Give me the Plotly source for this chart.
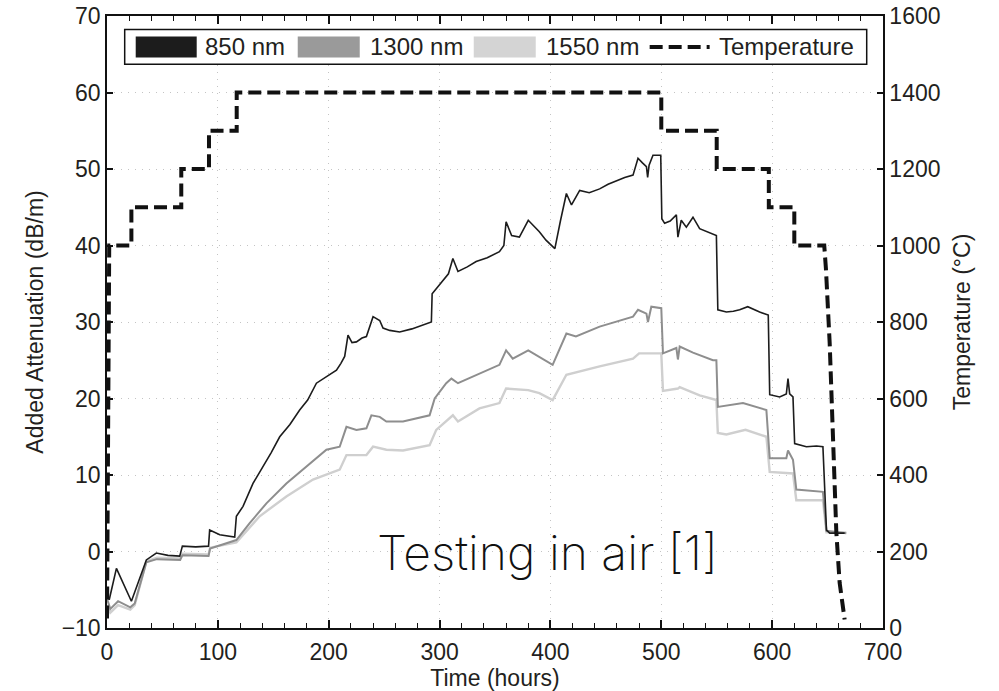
import plotly.graph_objects as go

# ---------------- data ----------------
hours_850 = [0, 2, 8.5, 22, 35.5, 44.5, 55, 65.6, 68, 80, 91.6, 92.6, 101.7, 115.2, 116.7, 122.7, 131.7,
             140.7, 148, 155.8, 165, 173.8, 181, 188.9, 198, 207, 211, 214.4, 217.4, 221, 225, 230, 234,
             240, 246, 249, 255, 264, 275, 288, 292.6, 293.3, 298, 303, 308, 312, 316.6, 325, 333, 343,
             354, 358, 360, 365, 372, 380, 385, 390, 396, 404, 409, 414.4, 419, 426.4, 435, 444.4, 452,
             459.5, 467, 474.5, 479, 483, 486.6, 487.7, 489, 492.5, 499.5, 500.5, 503, 508, 513.6, 515,
             518, 522.6, 528.6, 534.6, 543.6, 549.7, 551, 558.7, 565, 570.7, 578, 588.7, 596.5, 597.8,
             606.8, 612.8, 614.3, 615.8, 618.8, 620.3, 630.9, 640, 645.8, 649, 652, 665.4]
att_850 = [-5.5, -6.3, -2.2, -6.5, -1.1, -0.2, -0.5, -0.6, 0.7, 0.6, 0.7, 2.8, 2.2, 1.9, 4.6, 5.9, 8.9,
           11.1, 12.9, 15.0, 16.6, 18.5, 19.8, 22.0, 22.9, 23.7, 24.6, 25.5, 28.3, 27.3, 27.4, 27.9, 28.1,
           30.7, 30.2, 29.2, 28.9, 28.7, 29.1, 29.8, 30.0, 33.7, 34.5, 35.5, 36.3, 38.3, 36.6, 37.2, 37.9, 38.4,
           39.2, 40.0, 43.1, 41.3, 41.1, 43.3, 42.6, 41.8, 40.7, 39.6, 43.2, 46.8, 45.3, 47.2, 46.9, 47.4, 48.0,
           48.5, 48.9, 49.2, 51.4, 50.8, 50.3, 48.9, 50.5, 51.8, 51.8, 43.5, 42.9, 43.2, 44.0, 41.1,
           43.3, 42.4, 43.7, 42.2, 41.6, 41.3, 31.6, 31.3, 31.4, 31.6, 32.0, 31.3, 30.9, 20.5,
           20.2, 20.6, 22.6, 20.6, 20.2, 14.1, 13.7, 13.8, 13.7, 2.8, 2.4, 2.4]

hours_1300 = [0, 3, 10, 21, 25, 35.5, 45, 66, 68, 91.6, 93, 116.7, 128.7, 143.8, 161.8, 179.9, 197.9,
              209.9, 216, 225, 234, 238.5, 246, 252, 267, 291, 295.6, 306, 310.7, 316.6, 336, 354, 360,
              366, 380, 390, 402, 414.4, 423, 444.4, 474.5, 479, 486.6, 488, 491, 500, 501.5, 513.6, 515,
              516.6, 528.6, 546.6, 549.7, 551, 573.7, 594.8, 597.8, 612.8, 614.3, 618.8, 621.8, 645.8,
              649, 666.9]
att_1300 = [-6.2, -7.5, -6.5, -7.3, -6.8, -1.4, -1.0, -1.1, -0.5, -0.6, 0.4, 1.5, 3.7, 6.3, 8.9, 11.1, 13.3,
            13.7, 16.3, 15.9, 16.1, 17.8, 17.6, 17.0, 17.0, 17.8, 20.0, 22.0, 22.6, 22.0, 23.3, 24.4, 26.3,
            25.2, 26.3, 25.4, 24.4, 28.5, 28.1, 29.4, 30.7, 31.6, 31.1, 30.0, 32.0, 31.8, 25.9, 26.6, 25.1,
            26.8, 26.0, 25.0, 25.0, 18.9, 19.4, 18.5, 12.2, 12.2, 13.2, 12.0, 8.1, 7.8,
            2.7, 2.4]

hours_1550 = [0, 3, 10, 21, 25, 35.5, 45, 66, 68, 91.6, 93, 116.7, 137.7, 161.8, 185.8, 209.9, 216, 234,
              240, 252, 267, 291, 297, 306, 312, 316.6, 336, 354, 360, 380, 390, 402, 414.4, 444.4, 474.5,
              480, 500, 501.5, 515, 516.6, 534.6, 549.7, 551, 558.7, 576, 594.8, 597.8, 618.8, 621.8,
              645.8, 649, 666.9]
att_1550 = [-7.0, -8.0, -7.0, -7.6, -7.0, -1.3, -0.8, -0.9, -0.3, -0.4, 0.5, 1.2, 4.6, 7.2, 9.4, 10.7, 12.6, 12.6,
            13.7, 13.3, 13.2, 13.9, 15.9, 17.0, 17.8, 17.0, 18.7, 19.4, 21.3, 21.1, 20.7, 19.8, 23.1, 24.2, 25.2,
            25.9, 25.9, 21.0, 21.3, 21.5, 20.4, 19.8, 15.5, 15.3, 15.9, 15.0, 10.4, 10.2, 6.7,
            6.7, 2.5, 2.5]

temp_hours = [0, 2, 22, 22, 67, 67, 92, 92, 117, 117, 500, 500, 550, 550, 597, 597, 620, 620,
              647, 648.5, 651.9, 654.9, 657.9, 660.9, 665.4]
temp_c = [25, 1000, 1000, 1100, 1100, 1200, 1200, 1300, 1300, 1400, 1400, 1300, 1300, 1200, 1200, 1100,
          1100, 1000, 1000, 940, 745, 509, 250, 118, 22]

legend_names = ["850 nm", "1300 nm", "1550 nm", "Temperature"]
annotation_text = "Testing in air [1]"

x_ticks = [0, 100, 200, 300, 400, 500, 600, 700]
y_ticks = [-10, 0, 10, 20, 30, 40, 50, 60, 70]
y2_ticks = [0, 200, 400, 600, 800, 1000, 1200, 1400, 1600]

# ---------------- styles ----------------
C850, C1300, C1550 = "#1c1c1c", "#8e8e8e", "#cfcfcf"
FONT = "Liberation Sans, Arial, sans-serif"
TXT = "#231f20"
DASH = "13px,6px"
GRID = dict(showgrid=True, gridcolor="#c4c4c4", griddash="1px,6px", gridwidth=1)

fig = go.Figure()
fig.add_trace(go.Scatter(x=hours_1550, y=att_1550, mode="lines", name=legend_names[2],
                         line=dict(color=C1550, width=2.4), showlegend=False))
fig.add_trace(go.Scatter(x=hours_1300, y=att_1300, mode="lines", name=legend_names[1],
                         line=dict(color=C1300, width=2.0), showlegend=False))
fig.add_trace(go.Scatter(x=hours_850, y=att_850, mode="lines", name=legend_names[0],
                         line=dict(color=C850, width=1.6), showlegend=False))
fig.add_trace(go.Scatter(x=temp_hours, y=temp_c, mode="lines", name=legend_names[3], yaxis="y2",
                         line=dict(color="#111111", width=4, dash=DASH), showlegend=False))

# ---------------- manual legend (boxed, with filled swatches) ----------------
shapes = []
annos = []
LY = 0.9494
shapes.append(dict(type="rect", xref="paper", yref="paper", x0=0.0228, x1=0.979, y0=0.921, y1=0.978,
                   line=dict(color="#111", width=1.5), fillcolor="white", layer="above"))
sw = [(0.037, 0.1156, C850), (0.2458, 0.3257, "#9a9a9a"), (0.4726, 0.5525, "#d4d4d4")]
txt_x = [0.1233, 0.336, 0.5627, 0.7856]
for (a, b, c) in sw:
    shapes.append(dict(type="rect", xref="paper", yref="paper", x0=a, x1=b, y0=0.9323, y1=0.9665,
                       line=dict(width=0), fillcolor=c, layer="above"))
shapes.append(dict(type="line", xref="paper", yref="paper", x0=0.6993, x1=0.7766, y0=LY, y1=LY,
                   line=dict(color="#111", width=4, dash=DASH), layer="above"))
for name, xx in zip(legend_names, txt_x):
    annos.append(dict(xref="paper", yref="paper", x=xx, y=LY, xanchor="left", yanchor="middle",
                      text=name, showarrow=False, font=dict(family=FONT, size=24, color=TXT)))

annos.append(dict(xref="paper", yref="paper", x=0.79, y=0.124, xanchor="right", yanchor="middle",
                  text=annotation_text, showarrow=False,
                  font=dict(family="Inter, Lato, sans-serif", size=48, color="#111", weight=200)))

axis_common = dict(showline=True, linecolor="#111", linewidth=1.5, ticks="inside", tickcolor="#111",
                   tickfont=dict(family=FONT, size=23, color=TXT), zeroline=False, automargin=False)

fig.update_layout(
    width=999, height=691,
    margin=dict(l=107, r=116, t=16, b=63),
    paper_bgcolor="white", plot_bgcolor="white",
    shapes=shapes, annotations=annos,
    xaxis=dict(range=[0, 700], tickvals=x_ticks, ticklen=8, tickwidth=1.5, mirror="ticks",
               ticklabelstandoff=3,
               minor=dict(dtick=20, ticks="inside", ticklen=5, tickcolor="#111", tickwidth=1.2, showgrid=False),
               title=dict(text="Time (hours)", font=dict(family=FONT, size=23, color=TXT), standoff=0),
               **GRID, **axis_common),
    yaxis=dict(range=[-10, 70], tickvals=y_ticks, ticklen=6, tickwidth=1.5,
               title=dict(text="Added Attenuation (dB/m)", font=dict(family=FONT, size=23, color=TXT), standoff=12),
               **GRID, **axis_common),
    yaxis2=dict(range=[0, 1600], tickvals=y2_ticks, ticklen=6, tickwidth=1.5, overlaying="y", side="right",
                showgrid=False,
                title=dict(text="Temperature (°C)", font=dict(family=FONT, size=23, color=TXT), standoff=14),
                **axis_common),
)

fig.write_html("out.html")
